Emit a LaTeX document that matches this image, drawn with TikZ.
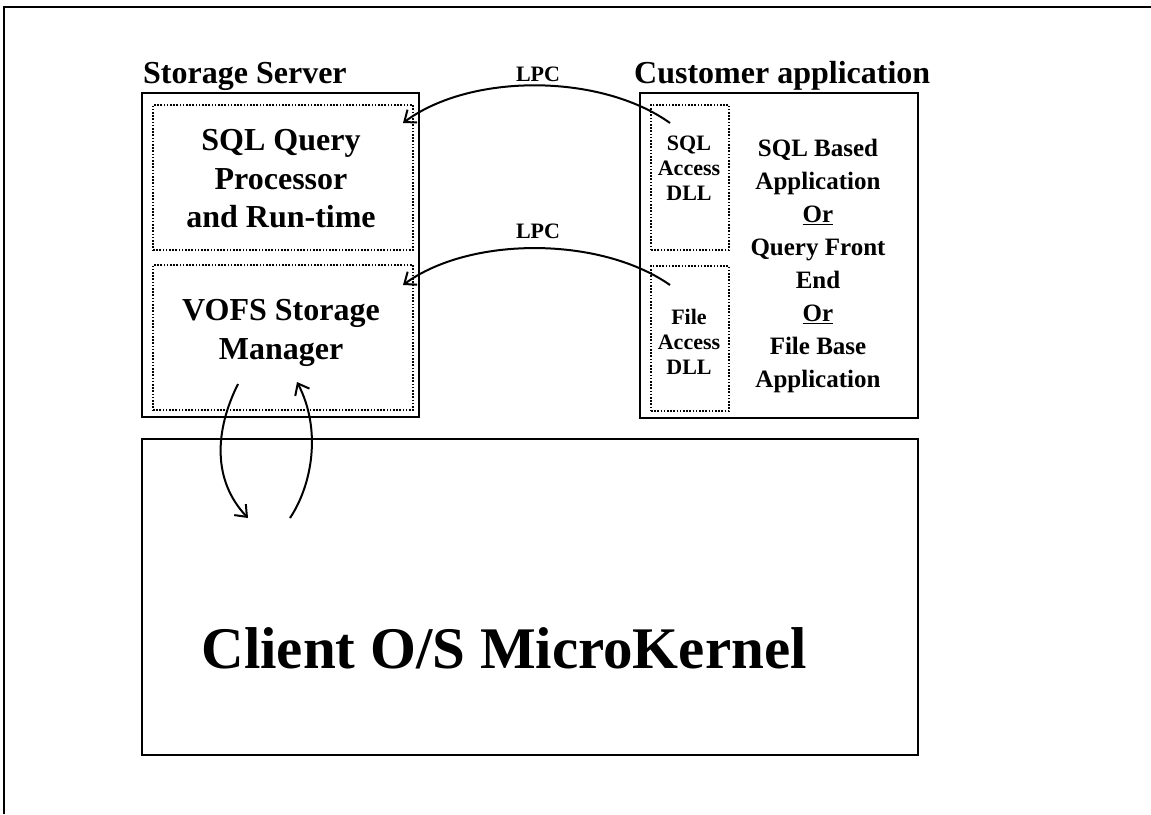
\documentclass[tikz,border=0pt]{standalone}
\usepackage{fontspec}
\setmainfont{Liberation Serif}
\usetikzlibrary{arrows.meta}
\begin{document}
\begin{tikzpicture}[x=1pt,y=-1pt,
  solidbox/.style={draw, line width=2.4pt, inner sep=0pt, anchor=north west},
  dotbox/.style={draw, line width=2pt, dash pattern=on 1.6pt off 1.6pt, inner sep=0pt, anchor=north west},
  heading/.style={font=\bfseries\fontsize{32}{38}\selectfont, inner sep=0pt, anchor=base west},
  bigtext/.style={font=\bfseries\fontsize{32}{38.5}\selectfont, align=center, inner sep=0pt},
  dlltext/.style={font=\bfseries\fontsize{22}{25}\selectfont, align=center, inner sep=0pt},
  apptext/.style={font=\bfseries\fontsize{25}{33}\selectfont, align=center, inner sep=0pt},
  lpc/.style={font=\bfseries\fontsize{22}{26}\selectfont, inner sep=0pt},
  call/.style={line width=2pt, -{Straight Barb[length=10pt,width=16pt,line width=2pt]}}]
\useasboundingbox (0,0) rectangle (1151,814);

% page frame
\draw[line width=2.6pt] (4,814) -- (4,7) -- (1151,7);

% storage server side
\node[heading] (srvtitle) at (143,83) {Storage Server};
\node[solidbox, minimum width=277pt, minimum height=324pt] (srv) at (141,92) {};
\node[dotbox, minimum width=260pt, minimum height=145pt] (sqlq) at (152,104) {};
\node[dotbox, minimum width=260pt, minimum height=145pt] (vofs) at (152,264) {};
\node[bigtext] (sqlqtxt) at (281,179) {SQL Query\\Processor\\and Run-time};
\node[bigtext] (vofstxt) at (281,333) {VOFS Storage\\Manager};

% customer application side
\node[heading] (custtitle) at (634,83) {Customer application};
\node[solidbox, minimum width=278pt, minimum height=325pt] (cust) at (639,92) {};
\node[dotbox, minimum width=78pt, minimum height=145pt] (sqldll) at (650,104) {};
\node[dotbox, minimum width=78pt, minimum height=145pt] (filedll) at (650,265) {};
\node[dlltext] (sqldlltxt) at (689,168) {SQL\\Access\\DLL};
\node[dlltext] (filedlltxt) at (689,342) {File\\Access\\DLL};
\node[apptext] (apptxt) at (818,266) {SQL Based\\Application\\\underline{Or}\\Query Front\\End\\\underline{Or}\\File Base\\Application};

% microkernel
\node[solidbox, minimum width=776pt, minimum height=316pt] (kern) at (141,438) {};
\node[font=\bfseries\fontsize{59}{60}\selectfont, inner sep=0pt, anchor=base] (kerntxt) at (504,668) {Client O/S MicroKernel};

% LPC calls
\node[lpc] (lpc1) at (538,74) {LPC};
\node[lpc] (lpc2) at (538,231) {LPC};
\draw[call] ([shift={(20,19)}]sqldll.north west)
  .. controls (600,73) and (470,73) .. ([shift={(-11,19)}]sqlq.north east);
\draw[call] ([shift={(20,20)}]filedll.north west)
  .. controls (600,236) and (470,236) .. ([shift={(-11,21)}]vofs.north east);

% storage manager <-> microkernel
\draw[call] ([shift={(86,-27)}]vofs.south west)
  .. controls (215,430) and (212,480) .. ([shift={(107,80)}]kern.north west);
\draw[call] ([shift={(149,80)}]kern.north west)
  .. controls (312,485) and (322,430) .. ([shift={(145,-29)}]vofs.south west);
\end{tikzpicture}
\end{document}
